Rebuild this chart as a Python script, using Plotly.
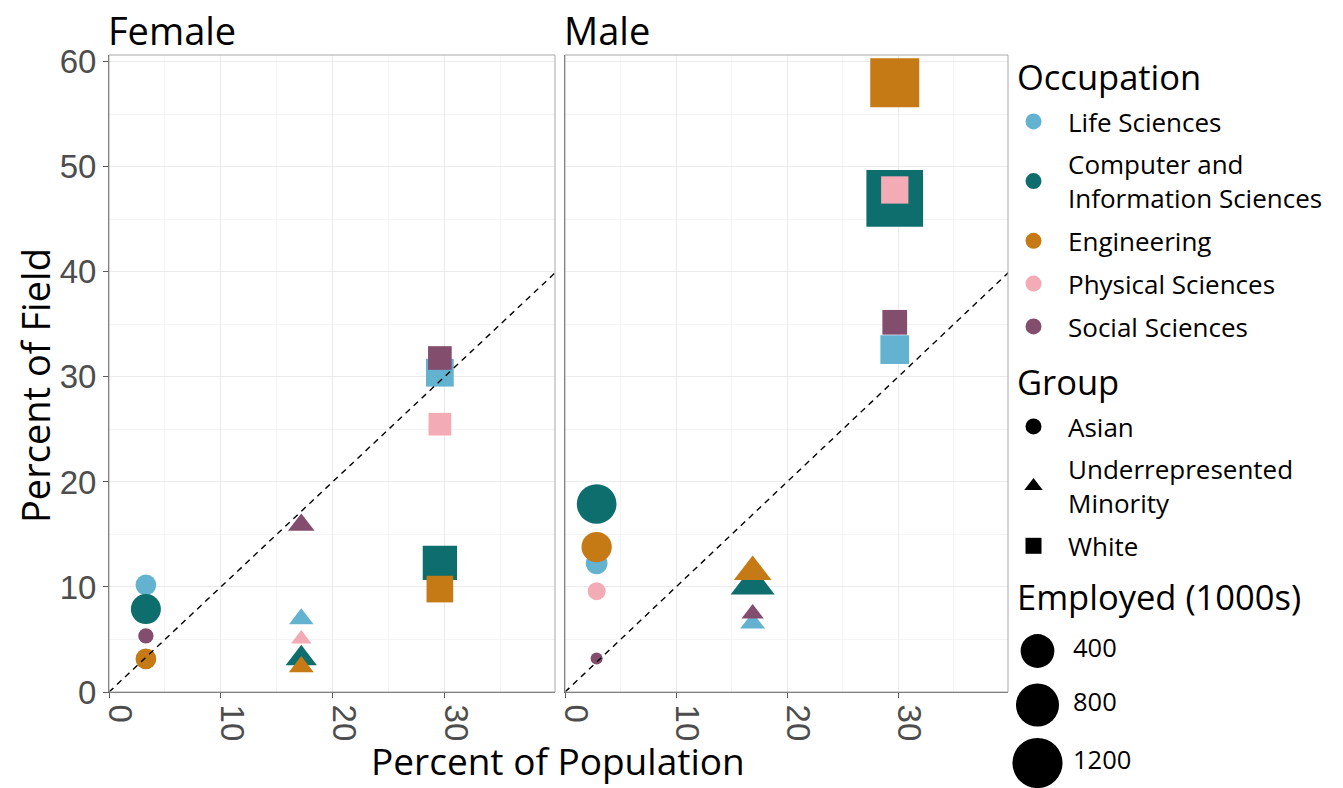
import numpy as np
import plotly.graph_objects as go

# ---- data -------------------------------------------------------------
occupations = ["Life Sciences", "Computer and Information Sciences",
               "Engineering", "Physical Sciences", "Social Sciences"]
occupation_labels = ["Life Sciences", "Computer and<br>Information Sciences",
                     "Engineering", "Physical Sciences", "Social Sciences"]
occupation_colors = ["#62b2d0", "#0d6e6d", "#c67a15", "#f3acb5", "#834e6e"]

groups = ["Asian", "Underrepresented Minority", "White"]
group_labels = ["Asian", "Underrepresented<br>Minority", "White"]
group_symbols = ["circle", "triangle-up", "square"]

# percent of the population, by group (Asian, URM, White)
population_female = [3.3, 17.2, 29.6]
population_male = [2.85, 16.9, 29.7]

# percent of each field, rows follow `occupations`, columns follow `groups`
# (None = not reported)
field_female = [
    [10.2, 6.95, 30.4],
    [7.9, 3.2, 12.3],
    [3.15, 2.4, 9.8],
    [None, 5.05, 25.5],
    [5.35, 15.9, 31.8],
]
field_male = [
    [12.25, 6.55, 32.6],
    [17.9, 10.2, 47.0],
    [13.8, 11.45, 58.0],
    [9.6, None, 47.8],
    [3.2, 7.45, 35.2],
]

# employed (1000s)
employed_female = [
    [77, 47, 318],
    [279, 117, 595],
    [77, 50, 282],
    [None, 24, 166],
    [24, 65, 191],
]
employed_male = [
    [92, 50, 354],
    [639, 364, 2215],
    [287, 223, 1540],
    [44, None, 303],
    [15, 32, 221],
]

size_breaks = [400, 800, 1200]
x_ticks = [0, 10, 20, 30]
y_ticks = [0, 10, 20, 30, 40, 50, 60]
identity_line = [0, 40]

# ---- size scale (area-style, like ggplot's scale_size) ------------------
all_employed = [v for tbl in (employed_female, employed_male)
                for row in tbl for v in row if v is not None]
emp_lo, emp_hi = min(all_employed), max(all_employed)
SIZE_MIN, SIZE_SPAN = 12.0, 52.0
# equal-area conversion from a circle diameter to plotly symbol sizes
symbol_scale = {"circle": 1.0, "triangle-up": 1.1664, "square": 0.886}


def diameter(v):
    return SIZE_MIN + SIZE_SPAN * np.sqrt((v - emp_lo) / (emp_hi - emp_lo))


W, H = 1343, 788
def px_x(p):
    return p / W
def px_y(p):
    return 1 - p / H


TEXT_FONT = "Open Sans"
fig = go.Figure()

panels = [
    ("x", "y", population_female, field_female, employed_female),
    ("x2", "y2", population_male, field_male, employed_male),
]

for xa, ya, pop, field, emp in panels:
    for i, occ in enumerate(occupations):
        xs, ys, sizes, syms = [], [], [], []
        for j, grp in enumerate(groups):
            if field[i][j] is None:
                continue
            xs.append(pop[j])
            ys.append(field[i][j])
            sizes.append(diameter(emp[i][j]) * symbol_scale[group_symbols[j]])
            syms.append(group_symbols[j])
        fig.add_trace(go.Scatter(
            x=xs, y=ys, xaxis=xa, yaxis=ya, mode="markers",
            marker=dict(color=occupation_colors[i], size=sizes, symbol=syms,
                        opacity=1, line=dict(width=0)),
            name=occ, showlegend=False, cliponaxis=False,
        ))
    fig.add_trace(go.Scatter(
        x=identity_line, y=identity_line, xaxis=xa, yaxis=ya, mode="lines",
        line=dict(color="black", width=1.4, dash="6px,5px"),
        showlegend=False, hoverinfo="skip",
    ))

# legend entries: occupation colours
for i, lab in enumerate(occupation_labels):
    fig.add_trace(go.Scatter(
        x=[None], y=[None], mode="markers", name=lab, legend="legend",
        legendgroup="occ%d" % i,
        marker=dict(color=occupation_colors[i], size=16, symbol="circle"),
    ))
# legend entries: group shapes
for j, lab in enumerate(group_labels):
    fig.add_trace(go.Scatter(
        x=[None], y=[None], mode="markers", name=lab, legend="legend2",
        legendgroup="grp%d" % j,
        marker=dict(color="black", size=16 if j != 1 else 18,
                    symbol=group_symbols[j]),
    ))

# size key drawn on its own hidden axes (pixel units inside the key area)
key_rows = [31, 85, 143]
fig.add_trace(go.Scatter(
    x=[27.5] * len(size_breaks), y=key_rows,
    xaxis="x3", yaxis="y3", mode="markers",
    marker=dict(color="black", size=[diameter(v) for v in size_breaks],
                opacity=1, line=dict(width=0)),
    showlegend=False, hoverinfo="skip", cliponaxis=False,
))
fig.add_trace(go.Scatter(
    x=[63] * len(size_breaks), y=key_rows,
    xaxis="x3", yaxis="y3", mode="text",
    text=[str(v) for v in size_breaks], textposition="middle right",
    textfont=dict(family=TEXT_FONT, size=25.5, color="black"),
    showlegend=False, hoverinfo="skip", cliponaxis=False,
))

tick_font = dict(family="Liberation Sans, Arial", size=33, color="#4d4d4d")
grid = dict(showgrid=True, gridcolor="#ebebeb", gridwidth=1,
            minor=dict(dtick=5, showgrid=True, gridcolor="#f4f4f4",
                       gridwidth=0.8, ticks=""),
            zeroline=False, showline=True, linecolor="#5a5a5a", linewidth=1,
            ticks="outside", ticklen=5, tickcolor="#5a5a5a", tickwidth=1,
            automargin=False)

x_common = dict(range=[0, 39.9], tickvals=x_ticks, tickangle=90,
                tickfont=tick_font, ticklabelshift=11, **grid)
y_common = dict(range=[0, 60.65], tickvals=y_ticks, tickfont=tick_font, **grid)

legend_common = dict(xanchor="left", yanchor="top", font=dict(size=26),
                     itemwidth=59, tracegroupgap=6, bgcolor="rgba(0,0,0,0)")


def title_note(text, x, y, size, **kw):
    return dict(text=text, x=px_x(x), y=px_y(y), xref="paper", yref="paper",
                showarrow=False, font=dict(size=size), **kw)


fig.update_layout(
    width=W, height=H,
    margin=dict(l=0, r=0, t=0, b=0, autoexpand=False),
    paper_bgcolor="white", plot_bgcolor="white",
    font=dict(family=TEXT_FONT, color="black"),
    xaxis=dict(domain=[px_x(109), px_x(555)], anchor="y", **x_common),
    xaxis2=dict(domain=[px_x(565), px_x(1008)], anchor="y2", **x_common),
    yaxis=dict(domain=[px_y(692), px_y(55)], anchor="x", **y_common),
    yaxis2=dict(domain=[px_y(692), px_y(55)], anchor="x2", matches="y",
                **{**y_common, "showticklabels": False, "ticks": ""}),
    xaxis3=dict(domain=[px_x(1010), 1], range=[0, 333], visible=False,
                anchor="y3", fixedrange=True, automargin=False),
    yaxis3=dict(domain=[0, px_y(620)], range=[168, 0], visible=False,
                anchor="x3", fixedrange=True, automargin=False),
    legend=dict(x=px_x(999), y=px_y(98), **legend_common),
    legend2=dict(x=px_x(999), y=px_y(403), **legend_common),
    annotations=[
        title_note("Female", 106, 30, 38, xanchor="left", yanchor="middle"),
        title_note("Male", 562, 30, 38, xanchor="left", yanchor="middle"),
        title_note("Percent of Population", 558, 760, 37,
                   xanchor="center", yanchor="middle"),
        title_note("Percent of Field", 35, 386, 38, textangle=-90,
                   xanchor="center", yanchor="middle"),
        title_note("Occupation", 1015, 77, 34.5, xanchor="left", yanchor="middle"),
        title_note("Group", 1015, 381, 34.5, xanchor="left", yanchor="middle"),
        title_note("Employed (1000s)", 1015, 596, 34.5,
                   xanchor="left", yanchor="middle"),
    ],
    shapes=[
        dict(type="rect", xref="paper", yref="paper",
             x0=px_x(109), x1=px_x(555), y0=px_y(692), y1=px_y(55),
             line=dict(color="#a8a8a8", width=1), layer="above"),
        dict(type="rect", xref="paper", yref="paper",
             x0=px_x(565), x1=px_x(1008), y0=px_y(692), y1=px_y(55),
             line=dict(color="#a8a8a8", width=1), layer="above"),
    ],
)

fig.write_html("out.html")
